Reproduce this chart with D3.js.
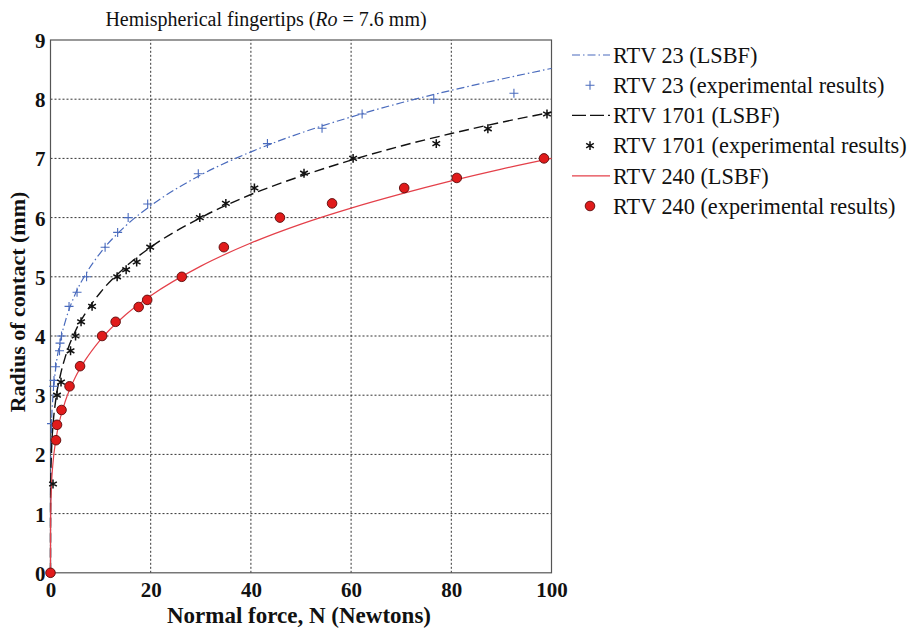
<!DOCTYPE html>
<html>
<head>
<meta charset="utf-8">
<script src="https://cdn.jsdelivr.net/npm/d3@7"></script>
<style>
  body { margin: 0; background: #fff; }
  svg { display: block; }
  svg text { font-family: "Liberation Serif", "DejaVu Serif", serif; }
</style>
</head>
<body>
<svg id="chart" width="912" height="632"></svg>
<script>
// ---- data ----
const xTicks = [0, 20, 40, 60, 80, 100];
const yTicks = [0, 1, 2, 3, 4, 5, 6, 7, 8, 9];

// LSBF fitted curves: [force N, radius mm]
const rtv23Fit = [[0,0],[0.01,1.4],[0.05,1.90],[0.2,2.50],[0.5,2.99],[1,3.43],[2,3.93],[3,4.26],[5,4.72],[7,5.04],[10,5.41],[15,5.86],[20,6.20],[30,6.72],[40,7.11],[50,7.43],[60,7.70],[70,7.94],[80,8.15],[90,8.34],[100,8.52]];
const rtv1701Fit = [[0,0],[0.01,1.1],[0.05,1.52],[0.2,2.04],[0.5,2.49],[1,2.89],[2,3.35],[3,3.66],[5,4.09],[7,4.39],[10,4.74],[15,5.17],[20,5.50],[30,6.00],[40,6.39],[50,6.70],[60,6.97],[70,7.21],[80,7.42],[90,7.61],[100,7.78]];
const rtv240Fit = [[0,0],[0.01,0.70],[0.05,1.05],[0.2,1.48],[0.5,1.86],[1,2.21],[2,2.63],[3,2.91],[5,3.31],[7,3.60],[10,3.94],[15,4.36],[20,4.68],[30,5.18],[40,5.57],[50,5.89],[60,6.16],[70,6.40],[80,6.62],[90,6.82],[100,7.00]];

// experimental results
const rtv23Exp = [[0,0],[0.2,2.52],[0.6,3.15],[0.7,3.25],[1.0,3.48],[1.8,3.75],[1.9,3.88],[2.2,4.0],[3.7,4.5],[5.3,4.74],[7.2,5.0],[10.9,5.5],[13.4,5.75],[15.5,6.0],[19.4,6.23],[29.5,6.74],[43.3,7.25],[54.2,7.51],[62.2,7.75],[76.5,8.0],[92.5,8.1]];
const rtv1701Exp = [[0,0],[0.5,1.5],[1.3,3.0],[2.1,3.22],[4.0,3.75],[5.0,4.0],[6.1,4.24],[8.3,4.5],[13.3,5.0],[15.1,5.12],[17.2,5.25],[19.9,5.5],[29.8,6.0],[35.0,6.24],[40.7,6.5],[50.6,6.75],[60.4,7.0],[77.0,7.25],[87.3,7.5],[99.1,7.75]];
const rtv240Exp = [[0,0],[1.1,2.24],[1.3,2.5],[2.2,2.75],[3.8,3.15],[5.9,3.49],[10.3,4.0],[13.0,4.24],[17.6,4.49],[19.3,4.61],[26.2,5.0],[34.6,5.5],[45.8,6.0],[56.2,6.24],[70.6,6.5],[81.1,6.67],[98.5,7.0]];

const legendLabels = ["RTV 23 (LSBF)", "RTV 23 (experimental results)", "RTV 1701 (LSBF)", "RTV 1701 (experimental results)", "RTV 240 (LSBF)", "RTV 240 (experimental results)"];

// ---- layout ----
const FONT = "Liberation Serif, DejaVu Serif, serif";
const svg = d3.select("#chart");
const L = 50.5, R = 551.5, T = 40, B = 572.8;
const x = d3.scaleLinear().domain([0, 100]).range([L, R]);
const y = d3.scaleLinear().domain([0, 9]).range([B, T]);

const blue = "#4a6bbd", black = "#111", redLine = "#e4404a", redFill = "#e01b1b";

// grid
const grid = svg.append("g").attr("stroke", "#333").attr("stroke-width", 1).attr("stroke-dasharray", "2,2");
xTicks.filter(t => t > 0 && t < 100).forEach(t => {
  grid.append("line").attr("x1", x(t)).attr("x2", x(t)).attr("y1", y(0)).attr("y2", y(9));
});
yTicks.filter(t => t > 0 && t < 9).forEach(t => {
  grid.append("line").attr("x1", x(0)).attr("x2", x(100)).attr("y1", y(t)).attr("y2", y(t));
});

// axes
const xAxis = d3.axisBottom(x).tickValues(xTicks).tickSize(0).tickPadding(8);
const yAxis = d3.axisLeft(y).tickValues(yTicks).tickSize(0).tickPadding(5);
const gx = svg.append("g").attr("transform", `translate(0,${B})`).call(xAxis);
const gy = svg.append("g").attr("transform", `translate(${L},0)`).call(yAxis);
[gx, gy].forEach(g => {
  g.attr("font-family", FONT);
  g.select(".domain").remove();
  g.selectAll("text").attr("font-family", FONT).attr("font-size", 21).attr("font-weight", "bold").attr("fill", "#111");
});
gx.selectAll("text").attr("dy", "0.75em");
gy.selectAll("text").attr("dy", "0.36em");

// box
svg.append("rect").attr("x", L).attr("y", T).attr("width", R - L).attr("height", B - T)
  .attr("fill", "none").attr("stroke", "#555").attr("stroke-width", 1.2);

// curves
const line = d3.line().x(d => x(d[0])).y(d => y(d[1])).curve(d3.curveMonotoneX);
const plot = svg.append("g");
plot.append("path").datum(rtv23Fit).attr("d", line).attr("fill", "none").attr("stroke", blue)
  .attr("stroke-width", 1.2).attr("stroke-dasharray", "8,3,1.5,3");
plot.append("path").datum(rtv1701Fit).attr("d", line).attr("fill", "none").attr("stroke", black)
  .attr("stroke-width", 1.4).attr("stroke-dasharray", "10,5");
plot.append("path").datum(rtv240Fit).attr("d", line).attr("fill", "none").attr("stroke", redLine)
  .attr("stroke-width", 1.2);

// markers
const plusPath = "M-4.5,0H4.5M0,-4.5V4.5";
const star = d3.symbol(d3.symbolAsterisk, 55)();
function drawPlus(g, data) {
  g.selectAll(null).data(data).join("path").attr("d", plusPath)
    .attr("transform", d => `translate(${x(d[0])},${y(d[1])})`)
    .attr("stroke", blue).attr("stroke-width", 1.1).attr("fill", "none");
}
function drawStar(g, data) {
  g.selectAll(null).data(data).join("path").attr("d", star)
    .attr("transform", d => `translate(${x(d[0])},${y(d[1])})`)
    .attr("stroke", black).attr("stroke-width", 1.5).attr("fill", "none");
}
function drawDot(g, data) {
  g.selectAll(null).data(data).join("circle").attr("r", 4.8)
    .attr("cx", d => x(d[0])).attr("cy", d => y(d[1]))
    .attr("fill", redFill).attr("stroke", "#5a0a0a").attr("stroke-width", 0.9);
}
drawPlus(plot.append("g"), rtv23Exp);
drawStar(plot.append("g"), rtv1701Exp);
drawDot(plot.append("g"), rtv240Exp);

// title
const title = svg.append("text").attr("x", 266).attr("y", 26).attr("text-anchor", "middle")
  .attr("font-family", FONT).attr("font-size", 20).attr("fill", "#111");
title.append("tspan").text("Hemispherical fingertips (");
title.append("tspan").attr("font-style", "italic").text("Ro");
title.append("tspan").text(" = 7.6 mm)");

// axis labels
svg.append("text").attr("x", 299).attr("y", 623).attr("text-anchor", "middle").attr("font-family", FONT)
  .attr("font-size", 23).attr("font-weight", "bold").attr("fill", "#111").text("Normal force, N (Newtons)");
svg.append("text").attr("transform", "translate(25,302) rotate(-90)").attr("text-anchor", "middle").attr("font-family", FONT)
  .attr("font-size", 22).attr("font-weight", "bold").attr("fill", "#111").text("Radius of contact (mm)");

// legend
const lg = svg.append("g");
const rowY = d3.scaleLinear().domain([0, 5]).range([55, 206]);
legendLabels.forEach((lab, i) => {
  const cy = rowY(i);
  lg.append("text").attr("x", 613).attr("y", cy).attr("dy", "0.35em").attr("font-family", FONT).attr("font-size", 22.3)
    .attr("fill", "#111").text(lab);
});
lg.append("line").attr("x1", 572).attr("x2", 610).attr("y1", rowY(0)).attr("y2", rowY(0))
  .attr("stroke", blue).attr("stroke-width", 1.2).attr("stroke-dasharray", "8,3,1.5,3");
lg.append("line").attr("x1", 572).attr("x2", 610).attr("y1", rowY(2)).attr("y2", rowY(2))
  .attr("stroke", black).attr("stroke-width", 1.4).attr("stroke-dasharray", "14,4");
lg.append("line").attr("x1", 572).attr("x2", 610).attr("y1", rowY(4)).attr("y2", rowY(4))
  .attr("stroke", redLine).attr("stroke-width", 1.2);
lg.append("path").attr("d", plusPath).attr("transform", `translate(590,${rowY(1)})`)
  .attr("stroke", blue).attr("stroke-width", 1.1).attr("fill", "none");
lg.append("path").attr("d", star).attr("transform", `translate(590,${rowY(3)})`)
  .attr("stroke", black).attr("stroke-width", 1.5).attr("fill", "none");
lg.append("circle").attr("r", 4.8).attr("cx", 590).attr("cy", rowY(5))
  .attr("fill", redFill).attr("stroke", "#5a0a0a").attr("stroke-width", 0.9);
</script>
</body>
</html>
